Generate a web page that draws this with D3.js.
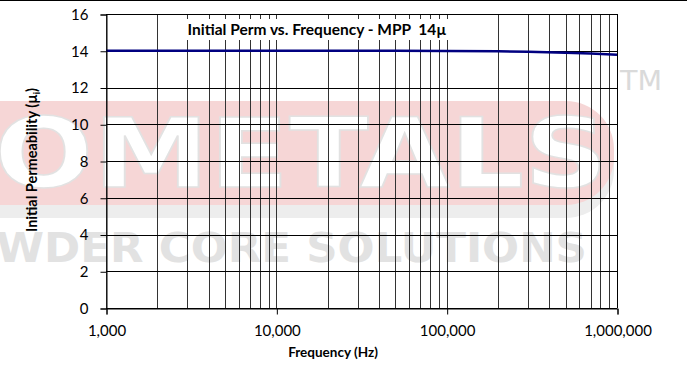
<!DOCTYPE html>
<html>
<head>
<meta charset="utf-8">
<script src="https://cdn.jsdelivr.net/npm/d3@7"></script>
<style>
  html, body { margin: 0; padding: 0; background: #fff; }
  svg { display: block; }
</style>
</head>
<body>
<svg id="chart" width="687" height="367"></svg>
<script>
// Initial permeability vs. frequency, MPP 14µ
const frequencies = [1000, 2000, 5000, 10000, 20000, 50000, 100000, 200000, 300000, 500000, 700000, 1000000];
const permeability = [14.0, 14.0, 14.0, 14.0, 14.0, 14.0, 13.99, 13.97, 13.94, 13.89, 13.85, 13.78];
const yTicks = [0, 2, 4, 6, 8, 10, 12, 14, 16];
const xTicks = [1000, 10000, 100000, 1000000];

const titleText = "Initial Perm vs. Frequency - MPP  14µ";
const xTitle = "Frequency (Hz)";
const yTitle = "Initial Permeability (µ";

const W = 687, H = 367;
const margin = { left: 106, right: 70, top: 14, bottom: 59 };
const svg = d3.select("#chart");
const font = "Lato, 'Open Sans', sans-serif";

// Brand watermark behind the plot
const wm = svg.append("g");
wm.append("rect").attr("x", -60).attr("y", 108).attr("width", 674).attr("height", 110)
  .attr("rx", 48).attr("fill", "#ededed");
wm.append("rect").attr("x", -60).attr("y", 101).attr("width", 674).attr("height", 104)
  .attr("rx", 48).attr("fill", "#f6d6d6");
wm.append("text").attr("x", -6).attr("y", 187)
  .attr("font-family", "'DejaVu Sans', sans-serif").attr("font-weight", "bold")
  .attr("font-size", 96).attr("textLength", 614).attr("lengthAdjust", "spacingAndGlyphs")
  .attr("fill", "#ffffff").attr("stroke", "#e2e2e2").attr("stroke-width", 1.5)
  .text("OMETALS");
wm.append("text").attr("x", -4).attr("y", 262)
  .attr("font-family", "'DejaVu Sans', sans-serif").attr("font-weight", "bold")
  .attr("font-size", 41).attr("textLength", 591).attr("lengthAdjust", "spacingAndGlyphs")
  .attr("fill", "#e2e2e2")
  .text("WDER CORE SOLUTIONS");
wm.append("text").attr("x", 620).attr("y", 90)
  .attr("font-family", "'DejaVu Sans', sans-serif")
  .attr("font-size", 27).attr("textLength", 42).attr("lengthAdjust", "spacingAndGlyphs")
  .attr("fill", "#dadada")
  .text("TM");

// Chart area top border
svg.append("line").attr("x1", 0).attr("x2", W).attr("y1", 0.5).attr("y2", 0.5)
  .attr("stroke", "#000").attr("stroke-width", 1);

const x = d3.scaleLog().domain([1000, 1000000]).range([margin.left, W - margin.right]);
const y = d3.scaleLinear().domain([0, 16]).range([H - margin.bottom, margin.top]);

const plot = svg.append("g");

// Log gridlines at every 1..9 multiple
const minor = [];
for (let d = 1000; d < 1000000; d *= 10) for (let k = 1; k <= 9; k++) minor.push(d * k);
minor.push(1000000);
plot.append("g").selectAll("line").data(minor).join("line")
  .attr("x1", d => Math.round(x(d)) + 0.5).attr("x2", d => Math.round(x(d)) + 0.5)
  .attr("y1", y(16)).attr("y2", y(0))
  .attr("stroke", "#333").attr("stroke-width", 1);
plot.append("g").selectAll("line").data(yTicks).join("line")
  .attr("x1", x(1000)).attr("x2", x(1000000))
  .attr("y1", d => Math.round(y(d)) + 0.5).attr("y2", d => Math.round(y(d)) + 0.5)
  .attr("stroke", "#000").attr("stroke-width", 1);

// Series
const line = d3.line().x((d, i) => x(frequencies[i])).y(d => y(d));
plot.append("path").datum(permeability).attr("d", line)
  .attr("fill", "none").attr("stroke", "#000080").attr("stroke-width", 2.5);

// Title box
const tb = plot.append("g");
tb.append("rect").attr("x", 176).attr("y", 19).attr("width", 280).attr("height", 21).attr("fill", "#fff");
tb.append("text").attr("x", 317).attr("y", 35).attr("text-anchor", "middle")
  .attr("font-family", font).attr("font-weight", "bold").attr("font-size", 15.5)
  .style("white-space", "pre")
  .attr("fill", "#000").text(titleText);

// Axes
const yAxis = d3.axisLeft(y).tickValues(yTicks).tickSize(6).tickPadding(12).tickFormat(d3.format("d"));
const gy = svg.append("g").attr("transform", `translate(${margin.left + 0.5},0.5)`).call(yAxis);
gy.select(".domain").attr("stroke", "#000");
gy.selectAll("text").attr("font-family", font).attr("font-size", 15).attr("fill", "#000");

const xAxis = d3.axisBottom(x).tickValues(xTicks).tickSize(6).tickPadding(11).tickFormat(d3.format(","));
const gx = svg.append("g").attr("transform", `translate(0.5,${H - margin.bottom + 0.5})`).call(xAxis);
gx.select(".domain").attr("stroke", "#000");
gx.selectAll("text").attr("font-family", font).attr("font-size", 15).attr("fill", "#000");

// Plot border (top and right)
svg.append("line").attr("x1", x(1000)).attr("x2", x(1000000)).attr("y1", y(16) + 0.5).attr("y2", y(16) + 0.5).attr("stroke", "#000");
svg.append("line").attr("x1", x(1000000) + 0.5).attr("x2", x(1000000) + 0.5).attr("y1", y(16)).attr("y2", y(0)).attr("stroke", "#000");

// Axis titles
svg.append("text").attr("x", 333).attr("y", 357).attr("text-anchor", "middle")
  .attr("font-family", font).attr("font-weight", "bold").attr("font-size", 13.5).attr("fill", "#000")
  .text(xTitle);
const yt = svg.append("text").attr("transform", `translate(37,160) rotate(-90)`)
  .attr("text-anchor", "middle")
  .attr("font-family", font).attr("font-weight", "bold").attr("font-size", 14.5).attr("fill", "#000");
yt.append("tspan").text(yTitle);
yt.append("tspan").attr("font-size", 9).attr("dy", 3).text("i");
yt.append("tspan").attr("dy", -3).text(")");
</script>
</body>
</html>
